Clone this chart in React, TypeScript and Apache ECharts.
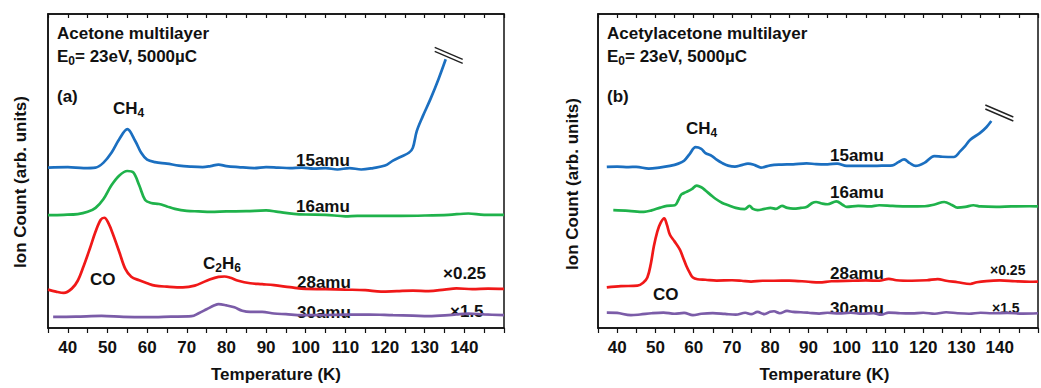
import React, { useEffect, useRef } from "react";
import * as echarts from "echarts";

const FONT = '"Liberation Sans", Arial, Helvetica, sans-serif';
const INK = "#111111";
const FS = 17;

// Temperature axis ticks (K) and labelled values
const tempMin = 35;
const tempMax = 150;
const tempStep = 5;
const tempLabels = [40, 50, 60, 70, 80, 90, 100, 110, 120, 130, 140];

const seriesNames = ["15amu", "16amu", "28amu", "30amu"];
const seriesColors = ["#1b6fc0", "#1fb24b", "#f01818", "#7b5ca8"];

// (a) Acetone multilayer — [Temperature (K), ion count (arb., offset)]
const acetone15: [number, number][] = [
  [35, 163], [40, 163.5], [44, 162.5], [47, 163], [49, 168], [51, 178], [53, 192], [55, 202],
  [57, 190], [58.5, 178], [60, 171], [62, 168.5], [65, 167], [68, 165], [71, 164], [74, 163.5],
  [76, 164.5], [78, 166], [80, 164.5], [83, 163.5], [87, 162.5], [90, 163.5], [93, 163],
  [96, 162.5], [99, 163], [102, 162], [105, 162.5], [108, 161], [111, 162.5], [114, 161],
  [117, 162.5], [120, 165], [122, 170], [124, 174], [126, 178], [127, 183], [128, 200],
  [129.5, 215], [131.5, 233], [133.5, 253], [135.3, 273],
];
const acetone16: [number, number][] = [
  [35, 114.7], [39, 115], [42.5, 115.7], [45, 118], [47, 122], [49, 131], [51, 145], [53, 155],
  [55, 159.5], [56.5, 158], [58, 145], [59.5, 130], [61, 127], [63, 126], [65, 123.5], [67, 121],
  [70, 119], [73, 118.5], [76, 118], [80, 118.5], [85, 118.7], [90, 119.5], [93, 118], [97, 116],
  [100, 115.3], [105, 115], [110, 113.5], [113, 114], [118, 114], [124, 114], [130, 114.3],
  [136, 115], [141, 116.3], [145, 115], [150, 115],
];
const acetone28: [number, number][] = [
  [35, 39], [37, 37], [39, 35.7], [41, 40], [42.5, 48], [44, 63], [45.5, 80], [47, 98], [48.3, 110],
  [49.2, 112], [50.3, 106], [51.5, 94], [53, 77], [54.5, 60], [56, 52], [58, 48.5], [60, 45.5],
  [62, 43], [65, 42], [69, 41.3], [72, 43], [75, 48], [78, 52], [79.5, 52.3], [81, 51], [83, 48],
  [86, 45.5], [89, 44.5], [92, 43.5], [96, 41.5], [100, 39.7], [105, 39.5], [110, 39], [115, 38.5],
  [119, 37], [123, 37.5], [127, 38], [131, 37.5], [135, 39], [138, 40.3], [142, 39.5], [146, 40],
  [150, 39.7],
];
const acetone30: [number, number][] = [
  [36.3, 11.3], [42, 11.5], [48.5, 12.3], [54, 11.3], [60, 11], [66, 11.5], [71.2, 12], [73, 15],
  [75, 19], [77, 23], [78, 24.3], [80, 23], [82, 21], [84, 17.5], [86, 16.3], [89, 16.3],
  [92, 14.7], [95, 14], [99, 13], [105, 13.2], [110, 13.5], [116, 13.7], [122, 13], [127, 12.5],
  [131, 12], [136, 13], [141, 14.7], [145, 13.8], [150, 13],
];

// (b) Acetylacetone multilayer
const acac15: [number, number][] = [
  [37.3, 163.7], [40, 164], [43, 163.5], [45, 163.7], [48.3, 162], [51, 163], [53.8, 164.7],
  [56, 167], [57.5, 170], [59, 177], [60.5, 183.7], [62, 182], [63, 178], [64.8, 174.7], [66, 171],
  [67.5, 167.5], [69, 165], [70.8, 164], [72.5, 165.5], [74.2, 167], [76, 165.5], [77.6, 163],
  [80.1, 165.3], [83, 166], [86, 166.3], [89.5, 167.3], [92, 166.5], [95, 166.3], [97.5, 167],
  [100, 164.7], [103, 164.7], [107, 164.7], [110, 165], [112, 165.3], [113.5, 168.5], [115, 171.3],
  [116.5, 167.5], [118, 164.7], [120.4, 168], [122.9, 174.7], [125, 174], [128, 173.7],
  [129.7, 179.7], [131, 185], [132.3, 191.3], [134.8, 198], [136.5, 204], [137.8, 210.3],
];
const acac16: [number, number][] = [
  [39, 119.7], [43, 119], [47, 118], [49, 119.5], [51.3, 122.3], [53, 124], [55.1, 124.7], [56, 130],
  [56.8, 135.7], [58, 138], [59.5, 141], [60.8, 144.7], [62, 143], [63.1, 139.7], [64.5, 135],
  [65.7, 131.3], [67.5, 127], [69.1, 124.7], [71, 122], [73.3, 120.7], [74.6, 124], [75.5, 121],
  [76.7, 119.7], [78.5, 121], [80.1, 122], [81.5, 121], [83.1, 124], [84.5, 122], [86, 121.3],
  [88, 122], [89.5, 123], [91, 127], [92, 128], [93.5, 126.5], [95, 125.7], [97.3, 128.7],
  [99, 125], [100, 123], [103, 124], [106, 123.5], [108.5, 124.7], [112, 124], [116, 123.5],
  [120.4, 123.7], [123, 125.5], [125.5, 128], [127.5, 125], [128.9, 122.3], [131, 123],
  [133.1, 124.7], [135, 123.5], [139.1, 123], [143, 123.5], [147.8, 123.7], [150, 123.5],
];
const acac28: [number, number][] = [
  [37.3, 41.3], [41, 42.5], [45.3, 43], [46.8, 46], [47.9, 51.3], [48.8, 65], [49.6, 83], [50.5, 98],
  [51.3, 106.3], [52.3, 111.3], [53, 105], [53.8, 94.7], [55, 88], [56.4, 79.7], [57.2, 72],
  [58.1, 63], [59, 56], [59.8, 51.3], [61, 49.5], [63.1, 49], [66, 48.2], [70, 48.5], [72.5, 48],
  [75, 47.2], [78, 48], [81, 48], [85, 48.2], [90, 47], [92.8, 46.3], [96, 47.5], [101.7, 48],
  [105, 48.3], [108.5, 48], [111, 50], [113, 48.5], [117, 48], [121, 48.5], [123.8, 49.7],
  [126, 48], [129, 46.5], [132.3, 44.7], [134, 46.5], [136.5, 47.7], [140, 48.3], [144, 47.5],
  [147.8, 47], [150, 47.2],
];
const acac30: [number, number][] = [
  [37.3, 15.7], [40, 15.3], [43.6, 13], [46, 13.7], [49, 15], [52.1, 15.7], [55, 14.5], [57.5, 15.3],
  [59.8, 13], [62, 14.5], [65, 15.2], [68.2, 14.3], [71, 13.5], [73.5, 15.5], [75, 14], [76.7, 16.3],
  [78.5, 14], [80, 16.5], [81, 17], [82.5, 15], [84.4, 17.3], [86, 16.3], [88, 16], [90, 15.5],
  [92.8, 14.7], [95, 15.5], [98, 14.8], [101, 15.5], [104, 14.5], [107, 15.2], [109, 13.5],
  [111, 15.7], [114, 15], [117, 14.8], [120, 15.5], [123, 14.5], [126, 16], [129, 15], [132, 14.5],
  [135, 15.5], [138, 15], [142, 15.3], [146, 14.7], [150, 15],
];

const panelA = [acetone15, acetone16, acetone28, acetone30];
const panelB = [acac15, acac16, acac28, acac30];

const yMin = 0;
const yMax = 319;

const grids = [
  { left: 48, top: 14, width: 456, height: 319 },
  { left: 598, top: 14, width: 451, height: 319 },
];

function bottomAxis(gridIndex: number, namePad: number) {
  return {
    type: "value",
    gridIndex,
    position: "bottom",
    min: tempMin,
    max: tempMax,
    interval: tempStep,
    axisLine: { show: true, onZero: false, lineStyle: { color: INK, width: 1.5 } },
    axisTick: { show: true, inside: false, length: 5, lineStyle: { color: INK, width: 1.2 } },
    axisLabel: {
      formatter: (v: number) => (tempLabels.includes(v) ? String(v) : ""),
      fontSize: FS,
      fontWeight: "bold",
      fontFamily: FONT,
      color: INK,
      margin: 11,
    },
    splitLine: { show: false },
    name: "Temperature (K)",
    nameLocation: "middle",
    nameGap: 38,
    nameTextStyle: {
      fontSize: FS,
      fontWeight: "bold",
      fontFamily: FONT,
      color: INK,
      padding: [0, 0, 0, namePad],
    },
  };
}

function topAxis(gridIndex: number) {
  return {
    type: "value",
    gridIndex,
    position: "top",
    min: tempMin,
    max: tempMax,
    interval: tempStep,
    axisLine: { show: true, onZero: false, lineStyle: { color: INK, width: 1.5 } },
    axisTick: { show: true, inside: true, length: 4, lineStyle: { color: INK, width: 1.2 } },
    axisLabel: { show: false },
    splitLine: { show: false },
  };
}

function yAxis(gridIndex: number) {
  return {
    type: "value",
    gridIndex,
    min: yMin,
    max: yMax,
    axisLine: { show: true, onZero: false, lineStyle: { color: INK, width: 1.5 } },
    axisTick: { show: false },
    axisLabel: { show: false },
    splitLine: { show: false },
  };
}

function makeSeries(data: [number, number][], idx: number, xAxisIndex: number, yAxisIndex: number) {
  return {
    type: "line",
    name: seriesNames[idx],
    xAxisIndex,
    yAxisIndex,
    data,
    showSymbol: false,
    symbol: "none",
    smooth: 0.35,
    lineStyle: { color: seriesColors[idx], width: 2.7 },
    itemStyle: { color: seriesColors[idx] },
  };
}

const subRich = {
  s: { fontSize: 12, fontWeight: "bold", fontFamily: FONT, fill: INK, lineHeight: 10, verticalAlign: "bottom" },
};

function txt(id: string, x: number, y: number, text: string, fontSize = FS, extra: any = {}) {
  return {
    type: "text",
    id,
    x,
    y,
    z: 1,
    silent: true,
    style: {
      text,
      fontSize,
      fontWeight: "bold",
      fontFamily: FONT,
      fill: INK,
      lineHeight: 21,
      align: "left",
      textAlign: "left",
      verticalAlign: "middle",
      textVerticalAlign: "middle",
      rich: subRich,
      ...extra,
    },
  };
}

const textElements: any[] = [
  // panel (a)
  txt("a-title", 57, 33, "Acetone multilayer"),
  txt("a-cond", 57, 56, "E{s|0}= 23eV, 5000\u00b5C"),
  txt("a-tag", 57, 96, "(a)"),
  txt("a-ch4", 113, 108, "CH{s|4}"),
  txt("a-15", 296, 160, "15amu"),
  txt("a-16", 296, 206, "16amu"),
  txt("a-28", 297, 282, "28amu"),
  txt("a-30", 297, 312, "30amu"),
  txt("a-x025", 443, 273, "\u00d70.25"),
  txt("a-x15", 450, 311, "\u00d71.5"),
  txt("a-co", 90, 279, "CO"),
  txt("a-c2h6", 203, 263, "C{s|2}H{s|6}"),
  // panel (b)
  txt("b-title", 607, 33, "Acetylacetone multilayer"),
  txt("b-cond", 607, 56, "E{s|0}= 23eV, 5000\u00b5C"),
  txt("b-tag", 607, 96, "(b)"),
  txt("b-ch4", 686, 128, "CH{s|4}"),
  txt("b-15", 830, 155, "15amu"),
  txt("b-16", 830, 192, "16amu"),
  txt("b-28", 830, 273, "28amu"),
  txt("b-30", 830, 308, "30amu"),
  txt("b-x025", 990, 270, "\u00d70.25", 14),
  txt("b-x15", 992, 308, "\u00d71.5", 14),
  txt("b-co", 653, 294, "CO"),
  // y-axis titles (rotated)
  { ...txt("a-ylab", 20, 182, "Ion Count (arb. units)", FS, { align: "center", textAlign: "center" }), rotation: Math.PI / 2 },
  { ...txt("b-ylab", 572, 184, "Ion Count (arb. units)", FS, { align: "center", textAlign: "center" }), rotation: Math.PI / 2 },
];

export default function App() {
  const ref = useRef<HTMLDivElement | null>(null);

  useEffect(() => {
    if (!ref.current) return;
    const chart = echarts.init(ref.current, undefined, { renderer: "svg" });
    const option: any = {
      animation: false,
      backgroundColor: "#ffffff",
      grid: grids.map((g) => ({
        ...g,
        show: true,
        borderColor: INK,
        borderWidth: 1.5,
        backgroundColor: "transparent",
        containLabel: false,
      })),
      xAxis: [bottomAxis(0, 0), topAxis(0), bottomAxis(1, 13), topAxis(1)],
      yAxis: [yAxis(0), yAxis(1)],
      series: [
        ...panelA.map((d, i) => makeSeries(d, i, 0, 0)),
        ...panelB.map((d, i) => makeSeries(d, i, 2, 1)),
      ],
      graphic: textElements,
    };
    chart.setOption(option);

    // axis-break marks at the clipped end of the 15amu curves
    const endA = acetone15[acetone15.length - 1];
    const endB = acac15[acac15.length - 1];
    const pA = chart.convertToPixel({ xAxisIndex: 0, yAxisIndex: 0 } as any, endA) as number[];
    const pB = chart.convertToPixel({ xAxisIndex: 2, yAxisIndex: 1 } as any, endB) as number[];
    const brk = (id: string, p: number[], dx: number, dy: number) => [
      {
        type: "line", id: id + "1", z: 3, silent: true,
        shape: { x1: p[0] + dx, y1: p[1] + dy - 4, x2: p[0] + dx + 28, y2: p[1] + dy + 8 },
        style: { stroke: "#222", lineWidth: 1.4 },
      },
      {
        type: "line", id: id + "2", z: 3, silent: true,
        shape: { x1: p[0] + dx, y1: p[1] + dy, x2: p[0] + dx + 28, y2: p[1] + dy + 12 },
        style: { stroke: "#222", lineWidth: 1.4 },
      },
    ];
    if (pA && pB) {
      chart.setOption({
        graphic: [...textElements, ...brk("brkA", pA, -11, -8), ...brk("brkB", pB, -6, -12)],
      });
    }

    return () => chart.dispose();
  }, []);

  return (
    <div
      ref={ref}
      style={{ position: "fixed", left: 0, top: 0, width: 1041, height: 388, background: "#fff" }}
    />
  );
}
